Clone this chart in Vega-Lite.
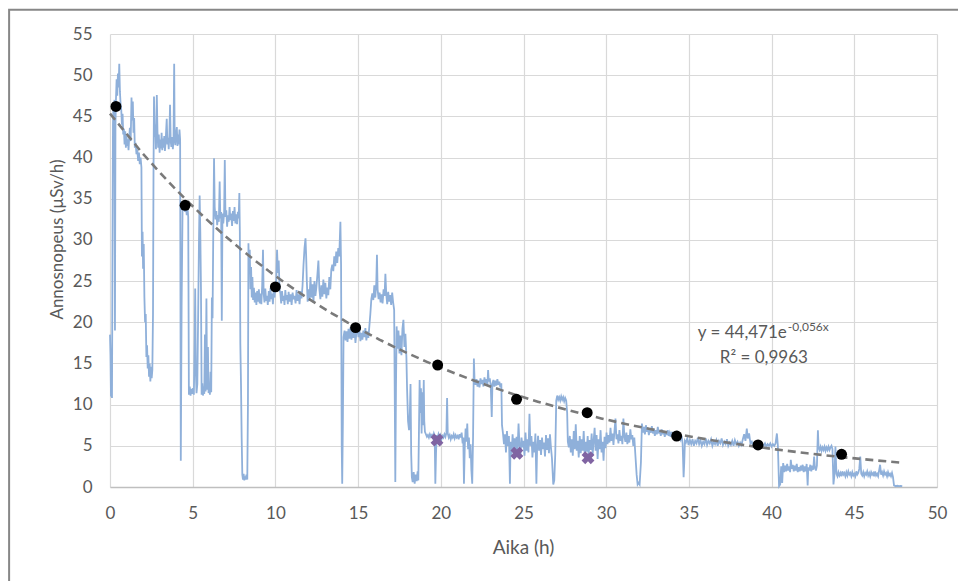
{
"$schema":"https://vega.github.io/schema/vega-lite/v6.json",
"width":827,"height":453,"autosize":"none",
"padding":{"left":110,"top":34,"right":21,"bottom":94},
"background":"white",
"config":{"view":{"stroke":null},"font":"Lato"},
"datasets":{
"trace":[
{"t":0,"v":18.5},{"t":0.03,"v":16},{"t":0.06,"v":11},{"t":0.09,"v":13},{"t":0.12,"v":10.8},{"t":0.15,"v":28},{"t":0.18,"v":44},{"t":0.21,"v":46.5},{"t":0.24,"v":45},{"t":0.27,"v":47},{"t":0.3,"v":19},{"t":0.33,"v":44},{"t":0.36,"v":47},{"t":0.4,"v":49.5},{"t":0.44,"v":47.5},{"t":0.48,"v":50.2},{"t":0.52,"v":48.5},{"t":0.56,"v":51.4},{"t":0.6,"v":48},{"t":0.64,"v":46.5},{"t":0.68,"v":45.8},{"t":0.72,"v":44},{"t":0.76,"v":45.3},{"t":0.8,"v":42.8},{"t":0.84,"v":43.5},{"t":0.88,"v":41.6},{"t":0.92,"v":43.2},{"t":0.96,"v":41.2},{"t":1.0,"v":42.6},{"t":1.04,"v":41.4},{"t":1.08,"v":42.2},{"t":1.12,"v":40.9},{"t":1.16,"v":42.4},{"t":1.2,"v":43.6},{"t":1.25,"v":42},{"t":1.3,"v":47.3},{"t":1.34,"v":44.5},{"t":1.38,"v":46.8},{"t":1.42,"v":43},{"t":1.46,"v":44.8},{"t":1.5,"v":41.2},{"t":1.55,"v":41.8},{"t":1.6,"v":40.4},{"t":1.65,"v":41},{"t":1.7,"v":39.6},{"t":1.75,"v":40.6},{"t":1.8,"v":39.2},{"t":1.85,"v":40},{"t":1.9,"v":38.8},{"t":1.93,"v":28},{"t":1.97,"v":31},{"t":2.0,"v":26.5},{"t":2.04,"v":29.5},{"t":2.08,"v":23},{"t":2.12,"v":20},{"t":2.16,"v":21},{"t":2.2,"v":15.8},{"t":2.24,"v":17.2},{"t":2.28,"v":14.4},{"t":2.32,"v":16},{"t":2.36,"v":13.4},{"t":2.4,"v":15},{"t":2.44,"v":12.8},{"t":2.48,"v":14.6},{"t":2.52,"v":13.2},{"t":2.56,"v":14.2},{"t":2.6,"v":21},{"t":2.63,"v":38},{"t":2.66,"v":47.4},{"t":2.7,"v":42.5},{"t":2.74,"v":44},{"t":2.78,"v":41},{"t":2.83,"v":47.6},{"t":2.87,"v":43.2},{"t":2.91,"v":41.2},{"t":2.95,"v":42.8},{"t":3.0,"v":40.6},{"t":3.04,"v":42.2},{"t":3.08,"v":41.1},{"t":3.12,"v":43},{"t":3.16,"v":40.9},{"t":3.2,"v":42.3},{"t":3.24,"v":41.2},{"t":3.28,"v":42.6},{"t":3.32,"v":40.8},{"t":3.36,"v":41.8},{"t":3.4,"v":43.5},{"t":3.43,"v":44.7},{"t":3.47,"v":41.6},{"t":3.51,"v":42.4},{"t":3.55,"v":41},{"t":3.59,"v":42.7},{"t":3.63,"v":46.4},{"t":3.67,"v":42},{"t":3.71,"v":41.3},{"t":3.75,"v":42.5},{"t":3.8,"v":41},{"t":3.84,"v":42.2},{"t":3.88,"v":51.4},{"t":3.91,"v":42.5},{"t":3.95,"v":41.5},{"t":3.99,"v":42.8},{"t":4.04,"v":43.7},{"t":4.08,"v":41.4},{"t":4.12,"v":42.8},{"t":4.16,"v":41.6},{"t":4.2,"v":43.4},{"t":4.24,"v":42.2},
{"t":4.28,"v":3.2},{"t":4.33,"v":22},{"t":4.39,"v":34.6},{"t":4.44,"v":33.6},{"t":4.49,"v":34.4},{"t":4.54,"v":33.4},{"t":4.59,"v":34},{"t":4.64,"v":33},{"t":4.69,"v":33.8},{"t":4.73,"v":32.8},{"t":4.77,"v":11.2},{"t":4.82,"v":12.2},{"t":4.87,"v":11.1},{"t":4.92,"v":11.9},{"t":4.97,"v":11.3},{"t":5.02,"v":12},{"t":5.07,"v":11.2},{"t":5.12,"v":18},{"t":5.15,"v":24.1},{"t":5.19,"v":14},{"t":5.23,"v":11.4},{"t":5.28,"v":12.5},{"t":5.33,"v":21},{"t":5.38,"v":30},{"t":5.42,"v":35.4},{"t":5.46,"v":31},{"t":5.5,"v":24},{"t":5.54,"v":11.2},{"t":5.58,"v":12.6},{"t":5.62,"v":11.1},{"t":5.66,"v":12.2},{"t":5.7,"v":11.3},{"t":5.74,"v":18.5},{"t":5.78,"v":11.6},{"t":5.83,"v":22.9},{"t":5.87,"v":11.8},{"t":5.92,"v":17},{"t":5.96,"v":11.4},{"t":6.0,"v":12.3},{"t":6.04,"v":11.2},{"t":6.08,"v":14},{"t":6.12,"v":11.5},{"t":6.16,"v":23},{"t":6.2,"v":20.5},{"t":6.24,"v":30},{"t":6.29,"v":39.9},{"t":6.33,"v":34},{"t":6.38,"v":32.5},{"t":6.43,"v":33.5},{"t":6.48,"v":31.8},{"t":6.53,"v":33},{"t":6.58,"v":32.2},{"t":6.63,"v":37.1},{"t":6.67,"v":32.6},{"t":6.72,"v":33.4},{"t":6.76,"v":20.2},{"t":6.8,"v":33.2},{"t":6.85,"v":32},{"t":6.9,"v":33.3},{"t":6.94,"v":39.7},{"t":6.98,"v":32.8},{"t":7.03,"v":33.6},{"t":7.08,"v":31.6},{"t":7.13,"v":33},{"t":7.18,"v":32.2},{"t":7.23,"v":34},{"t":7.28,"v":32.4},{"t":7.33,"v":33.2},{"t":7.38,"v":31.7},{"t":7.43,"v":33.5},{"t":7.48,"v":32.3},{"t":7.53,"v":34},{"t":7.58,"v":32},{"t":7.63,"v":33.1},{"t":7.68,"v":31.9},{"t":7.73,"v":33.4},{"t":7.78,"v":32.6},{"t":7.82,"v":35.7},{"t":7.85,"v":31},{"t":7.88,"v":17.4},{"t":7.92,"v":12.5},{"t":7.96,"v":6},{"t":8.0,"v":1.5},{"t":8.04,"v":0.9},{"t":8.08,"v":1.6},{"t":8.12,"v":0.8},{"t":8.16,"v":1.3},{"t":8.2,"v":0.9},{"t":8.25,"v":1.5},{"t":8.3,"v":0.9},{"t":8.34,"v":10},{"t":8.37,"v":29.6},
{"t":8.41,"v":26},{"t":8.45,"v":28.8},{"t":8.49,"v":24},{"t":8.53,"v":26.7},{"t":8.57,"v":23},{"t":8.61,"v":25.5},{"t":8.65,"v":22.7},{"t":8.7,"v":24.2},{"t":8.75,"v":22.4},{"t":8.8,"v":23.6},{"t":8.85,"v":22.1},{"t":8.9,"v":23.8},{"t":8.95,"v":22.5},{"t":9.0,"v":24},{"t":9.05,"v":22.3},{"t":9.1,"v":23.5},{"t":9.15,"v":22.2},{"t":9.2,"v":24.4},{"t":9.25,"v":28.8},{"t":9.29,"v":23.5},{"t":9.34,"v":22.4},{"t":9.39,"v":24.1},{"t":9.44,"v":22.6},{"t":9.49,"v":23.2},{"t":9.54,"v":22.1},{"t":9.6,"v":23.8},{"t":9.65,"v":22.5},{"t":9.7,"v":24.2},{"t":9.75,"v":22.8},{"t":9.8,"v":23.5},{"t":9.85,"v":22.2},{"t":9.9,"v":24},{"t":9.95,"v":23},{"t":10.0,"v":24.6},{"t":10.05,"v":25},{"t":10.1,"v":28.8},{"t":10.15,"v":26},{"t":10.2,"v":27.5},{"t":10.25,"v":24},{"t":10.3,"v":23.5},{"t":10.35,"v":22.3},{"t":10.4,"v":23.8},{"t":10.45,"v":22.6},{"t":10.5,"v":23.2},{"t":10.55,"v":22.1},{"t":10.6,"v":23.9},{"t":10.65,"v":22.7},{"t":10.7,"v":23.3},{"t":10.75,"v":22.2},{"t":10.8,"v":23.7},{"t":10.86,"v":22.5},{"t":10.92,"v":23.4},{"t":10.98,"v":22.1},{"t":11.04,"v":23.6},{"t":11.1,"v":22.8},{"t":11.16,"v":23.2},{"t":11.22,"v":22.3},{"t":11.28,"v":23.9},{"t":11.34,"v":22.6},{"t":11.4,"v":23.4},{"t":11.46,"v":22.2},{"t":11.52,"v":23.8},{"t":11.58,"v":22.9},{"t":11.64,"v":24.4},{"t":11.7,"v":27},{"t":11.76,"v":29},{"t":11.82,"v":30.2},{"t":11.86,"v":28},{"t":11.9,"v":25},{"t":11.95,"v":22.5},{"t":12.0,"v":24},{"t":12.06,"v":22.6},{"t":12.12,"v":25.5},{"t":12.18,"v":23},{"t":12.24,"v":24.6},{"t":12.3,"v":22.4},{"t":12.36,"v":25},{"t":12.42,"v":23.2},{"t":12.48,"v":24.3},{"t":12.54,"v":25.8},{"t":12.6,"v":27.5},{"t":12.66,"v":24},{"t":12.72,"v":22.8},{"t":12.78,"v":24.5},{"t":12.84,"v":23.1},{"t":12.9,"v":25.2},{"t":12.96,"v":23.4},{"t":13.02,"v":24.8},{"t":13.08,"v":22.9},{"t":13.14,"v":24.2},{"t":13.2,"v":23.3},{"t":13.26,"v":25.5},{"t":13.32,"v":24},{"t":13.38,"v":26.4},{"t":13.44,"v":27},{"t":13.5,"v":26.2},{"t":13.56,"v":28},{"t":13.62,"v":26.8},{"t":13.68,"v":28.6},{"t":13.74,"v":27.2},{"t":13.8,"v":29},{"t":13.86,"v":28},{"t":13.93,"v":32.2},{"t":13.97,"v":27},{"t":14.01,"v":5},{"t":14.04,"v":0.4},{"t":14.08,"v":8},{"t":14.12,"v":18.2},{"t":14.18,"v":19},{"t":14.24,"v":17.8},{"t":14.3,"v":18.9},{"t":14.36,"v":17.6},{"t":14.42,"v":19.2},{"t":14.48,"v":18},{"t":14.54,"v":19.4},{"t":14.6,"v":17.9},{"t":14.66,"v":19},{"t":14.72,"v":18.1},{"t":14.78,"v":19.3},{"t":14.84,"v":17.5},{"t":14.9,"v":18.8},{"t":14.96,"v":19.6},{"t":15.02,"v":18.2},{"t":15.08,"v":19.1},{"t":15.14,"v":17.7},{"t":15.2,"v":18.7},{"t":15.26,"v":17.9},{"t":15.32,"v":19},{"t":15.38,"v":18.2},{"t":15.44,"v":19.3},{"t":15.5,"v":17.8},{"t":15.56,"v":18.9},{"t":15.62,"v":18.1},{"t":15.68,"v":19.5},{"t":15.74,"v":21},{"t":15.8,"v":22.8},{"t":15.86,"v":23.5},{"t":15.92,"v":22.7},{"t":15.98,"v":24.5},{"t":16.04,"v":23},{"t":16.1,"v":24.8},{"t":16.14,"v":28.2},{"t":16.18,"v":24},{"t":16.24,"v":22.8},{"t":16.3,"v":23.6},{"t":16.36,"v":22.4},{"t":16.42,"v":23.4},{"t":16.48,"v":22.3},{"t":16.54,"v":24},{"t":16.6,"v":23.2},{"t":16.65,"v":25.9},{"t":16.7,"v":23.5},{"t":16.76,"v":22.2},{"t":16.82,"v":23.7},{"t":16.88,"v":22.5},{"t":16.94,"v":23.3},{"t":17.0,"v":22.1},{"t":17.06,"v":23.6},{"t":17.12,"v":22.4},{"t":17.18,"v":21.5},{"t":17.22,"v":10},{"t":17.25,"v":0.6},{"t":17.29,"v":12},{"t":17.33,"v":19.5},{"t":17.38,"v":16.8},{"t":17.44,"v":19},{"t":17.5,"v":16.2},{"t":17.56,"v":18.4},{"t":17.62,"v":16},{"t":17.68,"v":19.2},{"t":17.74,"v":20.3},{"t":17.8,"v":17},{"t":17.86,"v":18.6},{"t":17.92,"v":15.8},{"t":17.96,"v":12},{"t":18.02,"v":8},{"t":18.08,"v":6.9},{"t":18.13,"v":9},{"t":18.17,"v":12.5},{"t":18.21,"v":4},{"t":18.25,"v":1.2},{"t":18.3,"v":0.6},{"t":18.36,"v":1.8},{"t":18.42,"v":0.4},{"t":18.48,"v":1.5},{"t":18.54,"v":0.7},{"t":18.6,"v":1.9},{"t":18.64,"v":0.8},{"t":18.68,"v":7},{"t":18.72,"v":13},{"t":18.76,"v":9},{"t":18.8,"v":12},{"t":18.84,"v":6.5},{"t":18.88,"v":11.5},{"t":18.92,"v":7.5},{"t":18.97,"v":13},{"t":19.0,"v":8},{"t":19.04,"v":6.7},{"t":19.1,"v":6.4},{"t":19.16,"v":6.1},{"t":19.22,"v":6.3},{"t":19.28,"v":6.0},{"t":19.34,"v":6.4},{"t":19.4,"v":6.1},{"t":19.46,"v":6.3},{"t":19.52,"v":6.0},{"t":19.58,"v":6.5},{"t":19.63,"v":6.2},{"t":19.67,"v":0.4},{"t":19.71,"v":4},{"t":19.75,"v":6.3},{"t":19.8,"v":5.9},{"t":19.86,"v":6.4},{"t":19.92,"v":6.0},{"t":19.98,"v":6.3},{"t":20.04,"v":5.8},{"t":20.1,"v":6.2},{"t":20.16,"v":6.0},{"t":20.22,"v":6.4},{"t":20.28,"v":6.1},{"t":20.34,"v":6.6},{"t":20.38,"v":10.8},{"t":20.42,"v":6.5},{"t":20.48,"v":6.0},{"t":20.54,"v":6.3},{"t":20.6,"v":5.8},{"t":20.66,"v":6.2},{"t":20.72,"v":6.0},{"t":20.78,"v":6.4},{"t":20.84,"v":5.9},{"t":20.9,"v":6.3},{"t":20.96,"v":6.0},{"t":21.02,"v":6.2},{"t":21.08,"v":5.8},{"t":21.14,"v":6.4},{"t":21.2,"v":6.0},{"t":21.26,"v":6.6},{"t":21.32,"v":5.3},{"t":21.36,"v":6.0},{"t":21.4,"v":0.4},{"t":21.45,"v":5},{"t":21.5,"v":7.1},{"t":21.55,"v":5.5},{"t":21.6,"v":7.7},{"t":21.65,"v":4.6},{"t":21.7,"v":6},{"t":21.75,"v":3.5},{"t":21.8,"v":5.2},{"t":21.85,"v":2},{"t":21.9,"v":0.4},{"t":21.95,"v":6},{"t":22.0,"v":15.6},
{"t":22.04,"v":13},{"t":22.1,"v":12.4},{"t":22.16,"v":13.1},{"t":22.22,"v":12.2},{"t":22.28,"v":12.9},{"t":22.34,"v":12.1},{"t":22.4,"v":13.2},{"t":22.46,"v":12.5},{"t":22.52,"v":13},{"t":22.58,"v":12.2},{"t":22.64,"v":13.3},{"t":22.7,"v":12.6},{"t":22.76,"v":13.1},{"t":22.82,"v":12.4},{"t":22.86,"v":14.2},{"t":22.9,"v":12.8},{"t":22.96,"v":13.2},{"t":23.02,"v":12.3},{"t":23.08,"v":8.5},{"t":23.12,"v":12.5},{"t":23.18,"v":13},{"t":23.24,"v":12.2},{"t":23.3,"v":12.9},{"t":23.36,"v":12.3},{"t":23.42,"v":13.1},{"t":23.48,"v":12.4},{"t":23.54,"v":12.8},{"t":23.6,"v":12.1},{"t":23.66,"v":12.6},{"t":23.7,"v":7.5},{"t":23.76,"v":6.5},{"t":23.82,"v":5.2},{"t":23.88,"v":6.4},{"t":23.94,"v":4.2},{"t":24.0,"v":6.8},{"t":24.06,"v":5},{"t":24.12,"v":6.2},{"t":24.18,"v":0.4},{"t":24.22,"v":5.5},{"t":24.28,"v":3.8},{"t":24.34,"v":6.4},{"t":24.4,"v":4.6},{"t":24.46,"v":5.9},{"t":24.52,"v":4.2},{"t":24.58,"v":6.1},{"t":24.64,"v":4.5},{"t":24.7,"v":7.7},{"t":24.76,"v":5},{"t":24.82,"v":4},{"t":24.88,"v":6},{"t":24.94,"v":4.8},{"t":25.0,"v":5.6},{"t":25.06,"v":3.8},{"t":25.12,"v":6.6},{"t":25.18,"v":4.4},{"t":25.24,"v":5.8},{"t":25.3,"v":4.2},{"t":25.36,"v":8.9},{"t":25.42,"v":5},{"t":25.48,"v":6.2},{"t":25.54,"v":3.6},{"t":25.6,"v":5.5},{"t":25.66,"v":4.2},{"t":25.72,"v":6.5},{"t":25.78,"v":0.4},{"t":25.82,"v":4.5},{"t":25.88,"v":6.2},{"t":25.94,"v":4.4},{"t":26.0,"v":5.7},{"t":26.06,"v":3.9},{"t":26.12,"v":6},{"t":26.18,"v":4.6},{"t":26.24,"v":5.4},{"t":26.3,"v":3.7},{"t":26.36,"v":6.3},{"t":26.42,"v":4.5},{"t":26.48,"v":5.9},{"t":26.54,"v":4.1},{"t":26.6,"v":6.4},{"t":26.66,"v":4.8},{"t":26.72,"v":3.5},{"t":26.8,"v":0.3},{"t":26.86,"v":0.8},{"t":26.92,"v":4},{"t":26.98,"v":10.5},{"t":27.04,"v":11.1},{"t":27.1,"v":10.6},{"t":27.16,"v":10.9},{"t":27.22,"v":10.5},{"t":27.28,"v":11},{"t":27.34,"v":10.6},{"t":27.4,"v":10.9},{"t":27.46,"v":10.4},{"t":27.52,"v":10.8},{"t":27.58,"v":10.5},{"t":27.64,"v":9},{"t":27.68,"v":5.5},{"t":27.74,"v":4.8},{"t":27.8,"v":6.2},{"t":27.86,"v":4.2},{"t":27.92,"v":5.8},{"t":27.98,"v":3.8},{"t":28.04,"v":6.8},{"t":28.1,"v":4.6},{"t":28.16,"v":7.6},{"t":28.22,"v":4.4},{"t":28.28,"v":5.6},{"t":28.34,"v":3.6},{"t":28.4,"v":6.2},{"t":28.46,"v":4.1},{"t":28.52,"v":5.8},{"t":28.58,"v":4.4},{"t":28.64,"v":6.8},{"t":28.7,"v":3.9},{"t":28.76,"v":5.5},{"t":28.82,"v":4.3},{"t":28.88,"v":6.2},{"t":28.94,"v":3.8},{"t":29.0,"v":5.7},{"t":29.06,"v":4.5},{"t":29.12,"v":6.5},{"t":29.18,"v":3.9},{"t":29.24,"v":5.6},{"t":29.3,"v":7.2},{"t":29.36,"v":4.4},{"t":29.42,"v":6.3},{"t":29.48,"v":3.4},{"t":29.54,"v":5.8},{"t":29.6,"v":4.6},{"t":29.66,"v":6.9},{"t":29.72,"v":4.2},{"t":29.78,"v":5.5},{"t":29.84,"v":3.2},{"t":29.9,"v":6.1},{"t":29.96,"v":4.7},{"t":30.02,"v":6.6},{"t":30.08,"v":5.2},{"t":30.14,"v":6.3},{"t":30.2,"v":5.4},{"t":30.26,"v":7.2},{"t":30.32,"v":5.6},{"t":30.38,"v":6.5},{"t":30.44,"v":5.1},{"t":30.5,"v":6.8},{"t":30.56,"v":8.3},{"t":30.62,"v":5.8},{"t":30.68,"v":6.4},{"t":30.74,"v":5.3},{"t":30.8,"v":6.9},{"t":30.86,"v":5.6},{"t":30.92,"v":6.2},{"t":30.98,"v":5.2},{"t":31.04,"v":8.3},{"t":31.1,"v":6.1},{"t":31.16,"v":5.5},{"t":31.22,"v":6.6},{"t":31.28,"v":5.2},{"t":31.34,"v":6.3},{"t":31.4,"v":5.4},{"t":31.46,"v":7},{"t":31.52,"v":5.8},{"t":31.58,"v":6.3},{"t":31.64,"v":5},{"t":31.7,"v":6},{"t":31.76,"v":4},{"t":31.84,"v":1.5},{"t":31.9,"v":0.3},{"t":31.96,"v":0.5},{"t":32.02,"v":0.3},{"t":32.1,"v":3},{"t":32.16,"v":7.7},{"t":32.22,"v":6.6},{"t":32.28,"v":7.3},{"t":32.34,"v":6.4},{"t":32.4,"v":7.5},{"t":32.46,"v":6.7},{"t":32.52,"v":7.2},{"t":32.58,"v":6.3},{"t":32.64,"v":7},{"t":32.7,"v":6.6},{"t":32.76,"v":7.4},{"t":32.82,"v":6.5},{"t":32.88,"v":7.1},{"t":32.94,"v":6.2},{"t":33.0,"v":6.9},{"t":33.06,"v":6.4},{"t":33.12,"v":7.3},{"t":33.18,"v":6.5},{"t":33.24,"v":6.9},{"t":33.3,"v":6.2},{"t":33.36,"v":7},{"t":33.42,"v":6.4},{"t":33.48,"v":6.8},{"t":33.54,"v":6.1},{"t":33.6,"v":6.7},{"t":33.66,"v":6.3},{"t":33.72,"v":6.9},{"t":33.78,"v":6.2},{"t":33.84,"v":6.6},{"t":33.9,"v":6.1},{"t":33.96,"v":6.7},{"t":34.02,"v":6.3},{"t":34.08,"v":6.5},{"t":34.14,"v":6.0},{"t":34.2,"v":6.4},{"t":34.26,"v":6.1},{"t":34.32,"v":6.5},{"t":34.38,"v":6.0},{"t":34.44,"v":6.3},{"t":34.5,"v":5.8},{"t":34.56,"v":6.2},{"t":34.62,"v":5.3},{"t":34.68,"v":1.2},{"t":34.72,"v":3},{"t":34.76,"v":5.6},
{"t":34.82,"v":5.4},{"t":34.9,"v":5.9},{"t":34.98,"v":5.1},{"t":35.06,"v":5.7},{"t":35.14,"v":5.2},{"t":35.22,"v":5.8},{"t":35.3,"v":5.0},{"t":35.38,"v":5.6},{"t":35.46,"v":5.3},{"t":35.54,"v":6.0},{"t":35.62,"v":5.2},{"t":35.7,"v":5.7},{"t":35.78,"v":5.0},{"t":35.86,"v":5.5},{"t":35.94,"v":5.2},{"t":36.02,"v":5.9},{"t":36.1,"v":5.1},{"t":36.18,"v":5.6},{"t":36.26,"v":5.3},{"t":36.34,"v":5.8},{"t":36.42,"v":5.0},{"t":36.5,"v":5.5},{"t":36.58,"v":5.2},{"t":36.66,"v":5.7},{"t":36.74,"v":5.0},{"t":36.82,"v":5.6},{"t":36.9,"v":5.3},{"t":36.98,"v":5.9},{"t":37.06,"v":5.1},{"t":37.14,"v":5.5},{"t":37.22,"v":5.2},{"t":37.3,"v":5.8},{"t":37.38,"v":5.0},{"t":37.46,"v":5.4},{"t":37.54,"v":5.1},{"t":37.62,"v":5.6},{"t":37.7,"v":5.0},{"t":37.78,"v":5.7},{"t":37.86,"v":5.2},{"t":37.94,"v":5.5},{"t":38.02,"v":5.0},{"t":38.1,"v":5.4},{"t":38.18,"v":5.1},{"t":38.26,"v":5.8},{"t":38.34,"v":6.4},{"t":38.42,"v":5.6},{"t":38.5,"v":7.1},{"t":38.56,"v":5.9},{"t":38.64,"v":6.5},{"t":38.72,"v":5.3},{"t":38.8,"v":5.5},{"t":38.88,"v":5.0},{"t":38.96,"v":5.3},{"t":39.04,"v":4.9},{"t":39.12,"v":5.2},{"t":39.2,"v":5.0},{"t":39.28,"v":5.3},{"t":39.36,"v":4.9},{"t":39.44,"v":5.2},{"t":39.52,"v":5.0},{"t":39.6,"v":5.3},{"t":39.68,"v":4.9},{"t":39.76,"v":5.2},{"t":39.84,"v":5.0},{"t":39.92,"v":5.3},{"t":40.0,"v":4.9},{"t":40.08,"v":5.2},{"t":40.16,"v":5.0},{"t":40.24,"v":5.3},{"t":40.32,"v":6.5},{"t":40.38,"v":5},{"t":40.45,"v":0.1},{"t":40.52,"v":0.3},{"t":40.58,"v":2.5},{"t":40.64,"v":0.5},{"t":40.7,"v":2.9},{"t":40.76,"v":1.8},{"t":40.82,"v":2.6},{"t":40.88,"v":1.9},{"t":40.94,"v":2.8},{"t":41.0,"v":2.0},{"t":41.06,"v":2.5},{"t":41.12,"v":1.8},{"t":41.16,"v":3.3},{"t":41.22,"v":2.2},{"t":41.28,"v":2.7},{"t":41.34,"v":1.9},{"t":41.4,"v":2.6},{"t":41.46,"v":2.0},{"t":41.52,"v":2.8},{"t":41.58,"v":1.8},{"t":41.64,"v":2.4},{"t":41.7,"v":1.9},{"t":41.76,"v":2.6},{"t":41.82,"v":2.0},{"t":41.88,"v":2.7},{"t":41.94,"v":1.8},{"t":42.0,"v":2.5},{"t":42.06,"v":1.9},{"t":42.12,"v":2.8},{"t":42.18,"v":0.2},{"t":42.22,"v":2.4},{"t":42.28,"v":2.0},{"t":42.34,"v":2.7},{"t":42.4,"v":1.9},{"t":42.46,"v":2.6},{"t":42.52,"v":2.1},{"t":42.57,"v":3.7},{"t":42.62,"v":2.4},{"t":42.68,"v":2.0},{"t":42.74,"v":2.6},{"t":42.8,"v":6.9},{"t":42.84,"v":4.8},{"t":42.9,"v":4.5},{"t":42.96,"v":4.9},{"t":43.02,"v":4.4},{"t":43.08,"v":4.8},{"t":43.14,"v":4.5},{"t":43.2,"v":4.9},{"t":43.26,"v":4.4},{"t":43.32,"v":4.8},{"t":43.38,"v":4.5},{"t":43.44,"v":4.9},{"t":43.5,"v":4.5},{"t":43.56,"v":4.8},{"t":43.62,"v":5},{"t":43.68,"v":4.6},{"t":43.74,"v":0.3},{"t":43.8,"v":1.5},{"t":43.86,"v":4.9},{"t":43.92,"v":1.6},{"t":43.98,"v":1.3},{"t":44.04,"v":1.8},{"t":44.1,"v":1.4},{"t":44.16,"v":1.7},{"t":44.22,"v":1.3},{"t":44.28,"v":1.9},{"t":44.34,"v":1.5},{"t":44.4,"v":1.7},{"t":44.46,"v":1.3},{"t":44.52,"v":1.8},{"t":44.58,"v":1.4},{"t":44.64,"v":1.9},{"t":44.7,"v":1.5},{"t":44.76,"v":1.7},{"t":44.82,"v":1.3},{"t":44.88,"v":1.8},{"t":44.94,"v":1.4},{"t":45.0,"v":1.6},{"t":45.06,"v":1.3},{"t":45.12,"v":1.9},{"t":45.18,"v":1.5},{"t":45.24,"v":1.7},{"t":45.3,"v":2.2},{"t":45.36,"v":3.7},{"t":45.42,"v":1.6},{"t":45.48,"v":1.4},{"t":45.54,"v":1.8},{"t":45.6,"v":1.3},{"t":45.66,"v":1.7},{"t":45.72,"v":1.5},{"t":45.78,"v":1.9},{"t":45.84,"v":1.4},{"t":45.9,"v":1.7},{"t":45.96,"v":1.3},{"t":46.02,"v":1.8},{"t":46.08,"v":1.5},{"t":46.14,"v":1.7},{"t":46.2,"v":1.3},{"t":46.26,"v":1.9},{"t":46.32,"v":1.4},{"t":46.38,"v":1.6},{"t":46.44,"v":1.3},{"t":46.5,"v":2.0},{"t":46.56,"v":2.7},{"t":46.62,"v":1.5},{"t":46.68,"v":1.8},{"t":46.74,"v":1.4},{"t":46.8,"v":1.9},{"t":46.86,"v":1.5},{"t":46.92,"v":1.7},{"t":46.98,"v":1.3},{"t":47.04,"v":1.8},{"t":47.1,"v":1.4},{"t":47.16,"v":1.6},{"t":47.22,"v":1.3},{"t":47.28,"v":1.7},{"t":47.34,"v":1.2},{"t":47.4,"v":0.2},{"t":47.5,"v":0.1},{"t":47.6,"v":0.15},{"t":47.7,"v":0.1},{"t":47.8,"v":0.12},{"t":47.9,"v":0.1}
],
"points":[
{"t":0.36,"v":46.2},{"t":4.54,"v":34.2},{"t":10.0,"v":24.3},{"t":14.85,"v":19.35},{"t":19.81,"v":14.8},{"t":24.58,"v":10.65},{"t":28.85,"v":9.02},{"t":34.26,"v":6.19},{"t":39.18,"v":5.1},{"t":44.23,"v":3.97}
],
"crosses":[
{"t":19.77,"v":5.7},{"t":24.6,"v":4.1},{"t":28.9,"v":3.56}
]
},
"layer":[
{"data":{"values":[{}]},
 "mark":{"type":"rect","fill":null,"stroke":"#878787","strokeWidth":2},
 "encoding":{"x":{"datum":-6.1,"type":"quantitative"},"x2":{"datum":53},"y":{"datum":57.95,"type":"quantitative"},"y2":{"datum":-13}}},
{"data":{"name":"trace"},
 "mark":{"type":"line","color":"#8fb0da","strokeWidth":1.8,"interpolate":"linear"},
 "encoding":{
  "x":{"field":"t","type":"quantitative","scale":{"domain":[0,50],"nice":false,"zero":false},
   "axis":{"title":"Aika (h)","values":[0,5,10,15,20,25,30,35,40,45,50],"grid":true,"gridColor":"#d9d9d9","gridWidth":1.2,"domainColor":"#bfbfbf","domainWidth":1.5,"ticks":false,"tickSize":0,"labelPadding":18,"labelFontSize":17,"labelColor":"#595959","labelFont":"Lato","labelFlush":false,"labelOverlap":false,"titleFont":"Lato","titleFontSize":19,"titleFontWeight":"normal","titleColor":"#595959","titleX":413,"titleY":66,"titleBaseline":"alphabetic","titleAlign":"center"}},
  "y":{"field":"v","type":"quantitative","scale":{"domain":[0,55],"nice":false,"zero":false},
   "axis":{"title":"Annosnopeus (µSv/h)","values":[0,5,10,15,20,25,30,35,40,45,50,55],"grid":true,"gridColor":"#d9d9d9","gridWidth":1.2,"domain":false,"ticks":false,"tickSize":0,"labelPadding":18,"labelFontSize":17,"labelColor":"#595959","labelFont":"Lato","labelFlush":false,"labelOverlap":false,"titleFont":"Lato","titleFontSize":17,"titleFontWeight":"normal","titleColor":"#595959","titleX":-48,"titleY":205,"titleAngle":-90,"titleBaseline":"alphabetic","titleAlign":"center"}}}},
{"data":{"name":"points"},
 "transform":[{"regression":"v","on":"t","method":"exp","extent":[0,47.9]}],
 "mark":{"type":"line","color":"#7a7a7a","strokeWidth":2.6,"strokeDash":[8,5]},
 "encoding":{"x":{"field":"t","type":"quantitative"},"y":{"field":"v","type":"quantitative"}}},
{"data":{"name":"points"},
 "mark":{"type":"point","filled":true,"color":"#000000","size":120,"opacity":1},
 "encoding":{"x":{"field":"t","type":"quantitative"},"y":{"field":"v","type":"quantitative"}}},
{"data":{"name":"crosses"},
 "mark":{"type":"point","shape":"cross","angle":45,"filled":true,"color":"#8064a2","size":170,"opacity":1},
 "encoding":{"x":{"field":"t","type":"quantitative"},"y":{"field":"v","type":"quantitative"}}},
{"data":{"values":[{}]},
 "mark":{"type":"text","text":"y = 44,471e","align":"right","baseline":"alphabetic","fontSize":17,"color":"#595959","font":"Lato"},
 "encoding":{"x":{"datum":40.92,"type":"quantitative"},"y":{"datum":18.05,"type":"quantitative"}}},
{"data":{"values":[{}]},
 "mark":{"type":"text","text":"-0,056x","align":"left","baseline":"alphabetic","fontSize":12,"color":"#595959","font":"Lato"},
 "encoding":{"x":{"datum":40.98,"type":"quantitative"},"y":{"datum":18.94,"type":"quantitative"}}},
{"data":{"values":[{}]},
 "mark":{"type":"text","text":"R² = 0,9963","align":"center","baseline":"alphabetic","fontSize":17,"color":"#595959","font":"Lato"},
 "encoding":{"x":{"datum":39.53,"type":"quantitative"},"y":{"datum":15.06,"type":"quantitative"}}}
]
}
